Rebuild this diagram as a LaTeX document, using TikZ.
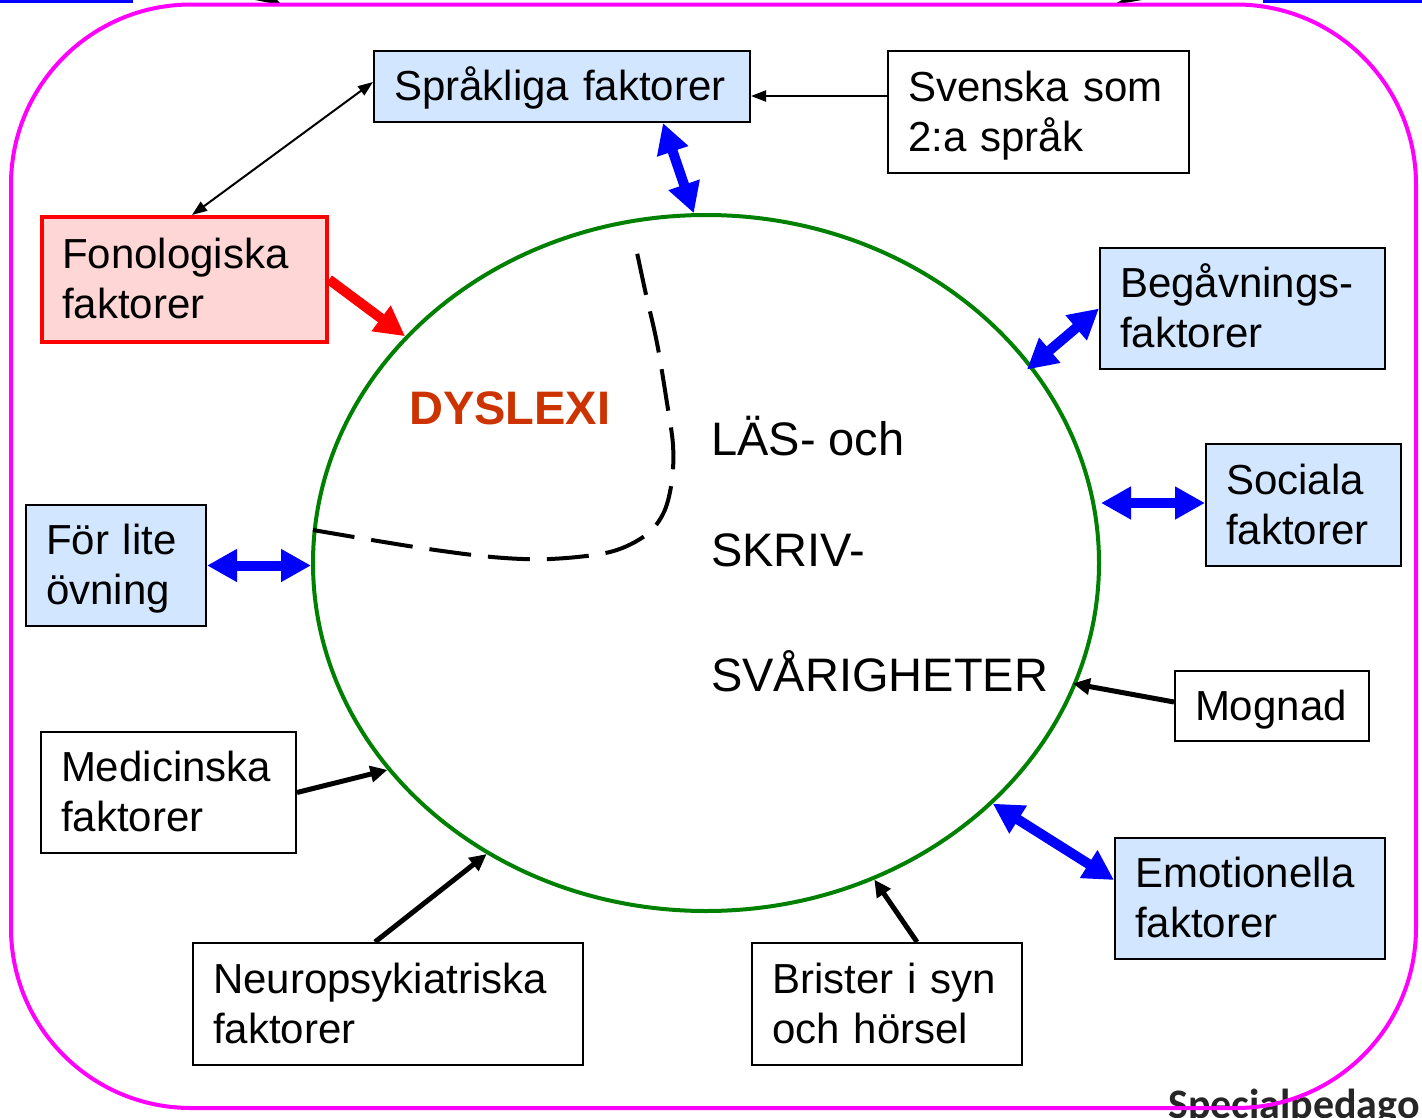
\documentclass[tikz,border=0pt]{standalone}
\usepackage{fontspec}
\setmainfont{Liberation Sans}
\newfontfamily\calibfont{Carlito}
\usetikzlibrary{arrows.meta,shapes.geometric}
\definecolor{lblue}{RGB}{210,231,255}
\definecolor{lpink}{RGB}{255,214,214}
\definecolor{fgreen}{RGB}{0,128,0}
\definecolor{dysl}{RGB}{204,51,0}
\definecolor{spgray}{RGB}{38,38,38}
\definecolor{frpink}{RGB}{255,0,255}
\newcommand\mystrut{\rule[-11pt]{0pt}{50pt}}
\tikzset{
  boxbase/.style={rectangle, draw=black, line width=2pt, inner xsep=20pt, inner ysep=0pt,
    align=left, font=\fontsize{42}{50}\selectfont},
  whitebox/.style={boxbase, fill=white},
  bluebox/.style={boxbase, fill=lblue},
  redbox/.style={boxbase, fill=lpink, draw=red, line width=4pt},
  bluearrow/.style={draw=blue, line width=10pt,
    {Triangle[length=30pt,width=31pt]}-{Triangle[length=30pt,width=31pt]}},
  redarrow/.style={draw=red, line width=10pt, -{Triangle[length=30pt,width=30pt]}},
  blackarrow/.style={draw=black, line width=5pt, -{Triangle[length=17pt,width=16pt]}},
  thinarrow/.style={draw=black, line width=2pt, -{Triangle[length=15pt,width=11pt]}},
  thinboth/.style={draw=black, line width=2pt,
    {Triangle[length=15pt,width=11pt]}-{Triangle[length=15pt,width=11pt]}},
  midtext/.style={anchor=base west, inner sep=0pt, font=\fontsize{47}{56}\selectfont}
}
\begin{document}
\begin{tikzpicture}[x=1pt,y=-1pt]
\useasboundingbox (0,0) rectangle (1422,1117);

% fragments at the top edge
\draw[blue, line width=3pt] (0,1.5) -- (133,1.5);
\draw[blue, line width=3pt] (1263,1.5) -- (1422,1.5);
\fill[black] (255,0) -- (283,5.5) -- (277,0) -- cycle;
\fill[black] (1113,5) -- (1142,0) -- (1122,0) -- cycle;

% cut-off footer text
\node[anchor=base west, inner sep=0pt, text=spgray,
  font=\calibfont\bfseries\fontsize{42}{50}\selectfont] (foot) at (1168,1118) {Specialpedago};

% outer frame
\draw[frpink, line width=4pt, rounded corners=180pt] (11,4.5) rectangle (1416,1108);

% central ellipse
\node[ellipse, draw=fgreen, line width=4pt, inner sep=0pt,
  minimum width=786pt, minimum height=696pt] (el) at (706,563) {};

% dashed separator
\draw[black, line width=4pt, dash pattern=on 42pt off 17pt]
  plot[smooth, tension=0.55] coordinates {(313,530) (415,547) (492,557) (550,559) (610,552)
   (646,535) (664,512) (672,480) (673,445) (667,403) (657,343) (645,290) (635,243)};

% texts in ellipse
\node[midtext, text=dysl, font=\bfseries\fontsize{47}{56}\selectfont] (dys) at (409,424) {DYSLEXI};
\node[midtext] (las) at (711,455) {LÄS- och};
\node[midtext] (skr) at (711,566) {SKRIV-};
\node[midtext] (svar) at (711,691) {SVÅRIGHETER};

% boxes
\node[bluebox, minimum width=376pt, minimum height=71pt, text width=336pt] (spr) at (562,86.5)
  {\mystrut Språkliga faktorer};
\node[whitebox, minimum width=301pt, minimum height=122pt, text width=261pt] (sven) at (1038.5,112)
  {\mystrut Svenska som\\2:a språk\mystrut};
\node[redbox, minimum width=285pt, minimum height=125pt, text width=245pt] (fon) at (184.5,279.5)
  {\mystrut Fonologiska\\faktorer\mystrut};
\node[bluebox, minimum width=285pt, minimum height=121pt, text width=245pt] (beg) at (1242.5,308.5)
  {\mystrut Begåvnings-\\faktorer\mystrut};
\node[bluebox, minimum width=195pt, minimum height=122pt, text width=155pt] (soc) at (1303.5,505)
  {\mystrut Sociala\\faktorer\mystrut};
\node[bluebox, minimum width=180pt, minimum height=121pt, text width=140pt] (for) at (116,565.5)
  {\mystrut För lite\\övning\mystrut};
\node[whitebox, minimum width=194pt, minimum height=70pt, text width=154pt] (mog) at (1272,706)
  {\mystrut Mognad};
\node[whitebox, minimum width=255pt, minimum height=121pt, text width=215pt] (med) at (168.5,792.5)
  {\mystrut Medicinska\\faktorer\mystrut};
\node[whitebox, minimum width=390pt, minimum height=122pt, text width=350pt] (neu) at (388,1004)
  {\mystrut Neuropsykiatriska\\faktorer\mystrut};
\node[whitebox, minimum width=270pt, minimum height=122pt, text width=230pt] (bri) at (887,1004)
  {\mystrut Brister i syn\\och hörsel\mystrut};
\node[bluebox, minimum width=270pt, minimum height=121pt, text width=230pt] (emo) at (1250,898.5)
  {\mystrut Emotionella\\faktorer\mystrut};

% connectors
\draw[thinboth] ([xshift=7.5pt]fon.north) -- ([yshift=4.5pt]spr.west);
\draw[thinarrow] ([yshift=16pt]sven.west) -- ([yshift=-9.5pt]spr.east);
\draw[bluearrow] ([xshift=101pt]spr.south) -- (el.92.3);
\draw[redarrow] (fon.east) -- (el.143.4);
\draw[bluearrow] (beg.west) -- ([shift={(-6pt,-3pt)}]el.31.6);
\draw[bluearrow] ([yshift=2pt]soc.west) -- ([yshift=2pt]soc.west -| el.east);
\draw[bluearrow] (for.east) -- (for.east -| el.west);
\draw[blackarrow] ([yshift=4pt]mog.west) -- ([xshift=-4pt]el.-18.7);
\draw[blackarrow] (med.east) -- (el.213.7);
\draw[blackarrow] ([xshift=-13pt]neu.north) -- (el.233.7);
\draw[blackarrow] ([xshift=30pt]bri.north) -- (el.-62.4);
\draw[bluearrow] ([yshift=18.5pt]emo.west) -- (el.-40.4);
\end{tikzpicture}
\end{document}
